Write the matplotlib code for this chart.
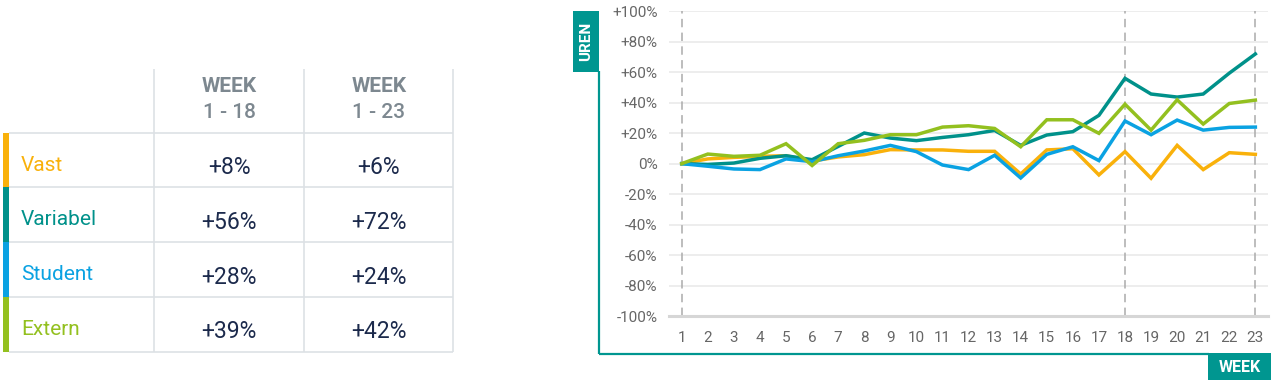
import matplotlib
matplotlib.use("Agg")
import matplotlib.pyplot as plt
from matplotlib.patches import Rectangle

plt.rcParams['font.family'] = ['Roboto', 'DejaVu Sans']

# ---------------- data ----------------
weeks = list(range(1, 24))
series_names = ["Vast", "Variabel", "Student", "Extern"]
vast = [0, 3.1, 4.1, 4.8, 5.2, 1.7, 4.4, 5.9, 9.2, 9.0, 9.0, 8.1, 8.1, -6.8,
        9.0, 9.8, -7.4, 7.9, -9.6, 12.0, -3.9, 7.2, 6.1]
variabel = [0, -0.5, 0.4, 3.5, 5.2, 2.6, 11.3, 20.1, 16.8, 15.1, 17.2, 19.0,
            21.8, 12.0, 18.8, 21.0, 31.7, 56.0, 45.7, 43.7, 45.7, 59.4, 72.0]
student = [0, -1.7, -3.5, -3.9, 3.1, 1.3, 5.2, 8.3, 12.0, 7.9, -0.9, -3.9,
           5.5, -9.4, 6.1, 11.1, 2.0, 28.0, 19.0, 28.6, 22.0, 23.8, 24.0]
extern = [0, 6.3, 4.8, 5.5, 13.1, -1.2, 13.1, 15.3, 19.0, 19.0, 24.0, 24.9,
          23.1, 11.1, 28.8, 28.8, 19.9, 39.0, 22.0, 41.9, 26.0, 39.5, 41.7]
table_headers = [("WEEK", "1 - 18"), ("WEEK", "1 - 23")]
table_wk18 = ["+8%", "+56%", "+28%", "+39%"]
table_wk23 = ["+6%", "+72%", "+24%", "+42%"]
yticks = list(range(-100, 101, 20))
ytick_labels = [("+%d%%" % v if v > 0 else "%d%%" % v) for v in yticks]
marked_weeks = [1, 18, 23]

colors = ["#f9b10b", "#00918a", "#0aa2e2", "#93c01f"]
TEAL = "#009690"
W, H = 1271, 384

fig = plt.figure(figsize=(W / 100, H / 100), dpi=100)

# ---------------- overlay (pixel coords) ----------------
ov = fig.add_axes([0, 0, 1, 1])
ov.set_xlim(0, W)
ov.set_ylim(H, 0)
ov.axis("off")

# table geometry
col_x = [154.3, 304.3, 453.3]
row_y = [133.3, 187.3, 242.3, 297.3, 351.7]
gcol = "#dde1e5"
for x in col_x:
    ov.plot([x, x], [69, row_y[-1]], color=gcol, lw=1.2, solid_capstyle="butt")
for y in row_y:
    ov.plot([9, col_x[-1]], [y, y], color=gcol, lw=1.2, solid_capstyle="butt")

centers = [(col_x[0] + col_x[1]) / 2, (col_x[1] + col_x[2]) / 2]
for cx, (h1, h2) in zip(centers, table_headers):
    ov.text(cx, 85, h1, ha="center", va="center_baseline", fontsize=15,
            fontweight="bold", color="#7d8890")
    ov.text(cx, 110.5, h2, ha="center", va="center_baseline", fontsize=15,
            fontweight="medium", color="#7d8890")

for i, name in enumerate(series_names):
    y0, y1 = row_y[i], row_y[i + 1]
    ov.add_patch(Rectangle((3.3, y0), 5.7, y1 - y0, color=colors[i], lw=0))
    yc = (y0 + y1) / 2
    ov.text(21, yc + 3, name, ha="left", va="center_baseline", fontsize=15,
            color=colors[i])
    ov.text(centers[0], yc + 5, table_wk18[i], ha="center", va="center_baseline",
            fontsize=16.5, color="#1c2a4c")
    ov.text(centers[1], yc + 5, table_wk23[i], ha="center", va="center_baseline",
            fontsize=16.5, color="#1c2a4c")

# teal frame and label boxes
ov.plot([598.5, 598.5], [71, 354], color=TEAL, lw=1.6, solid_capstyle="butt")
ov.plot([598.5, 1209], [354, 354], color=TEAL, lw=1.6, solid_capstyle="butt")
ov.add_patch(Rectangle((573.3, 10.7), 26, 61, color=TEAL, lw=0))
ov.text(586.3, 41.2, "UREN", rotation=90, ha="center", va="center",
        fontsize=11, fontweight="bold", color="white")
ov.add_patch(Rectangle((1208, 353.3), 63, 27, color=TEAL, lw=0))
ov.text(1239.5, 367, "WEEK", ha="center", va="center", fontsize=11.5,
        fontweight="bold", color="white")

# ---------------- chart ----------------
left, right, top, bottom = 668.7, 1268.4, 11.3, 316.0
ax = fig.add_axes([left / W, (H - bottom) / H, (right - left) / W, (bottom - top) / H])
ax.patch.set_alpha(0)
ax.set_xlim(0.5, 23.5)
ax.set_ylim(-100, 100)
ax.set_yticks(yticks)
ax.set_yticklabels(ytick_labels)
ax.set_xticks(weeks)
ax.set_xticklabels([str(w) for w in weeks])
ax.grid(axis="y", color="#e8e8e8", lw=1.1)
ax.set_axisbelow(True)
for s in ["left", "right", "top"]:
    ax.spines[s].set_visible(False)
ax.spines["bottom"].set_color("#d6d6d6")
ax.spines["bottom"].set_linewidth(2.2)
ax.tick_params(axis="both", length=0, labelsize=11, colors="#666666")
ax.tick_params(axis="y", pad=8)
ax.tick_params(axis="x", pad=11)

for wk in marked_weeks:
    ax.axvline(wk, color="#ababab", lw=1.1, dashes=(5.5, 3.5), zorder=1)

for vals, c in zip([vast, variabel, student, extern], colors):
    ax.plot(weeks, vals, color=c, lw=2.5, zorder=3, solid_joinstyle="miter")

fig.savefig("out.png", dpi=100)
